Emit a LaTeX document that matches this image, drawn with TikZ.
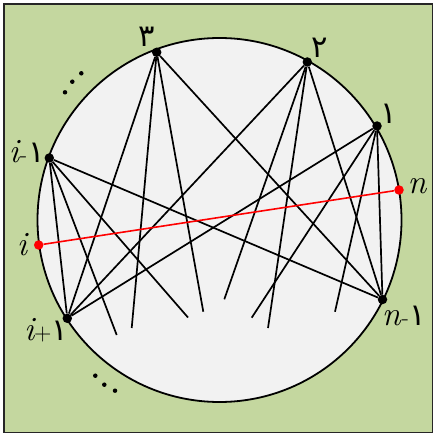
\documentclass[tikz,border=0pt]{standalone}
\usepackage{fontspec}
\newfontfamily\arabicfont[Script=Arabic,Scale=0.9]{DejaVu Sans}
\definecolor{bg}{HTML}{C4D79F}
\definecolor{disk}{HTML}{F2F2F2}
\newcommand{\fa}[1]{{\upshape\arabicfont #1}}
\newcommand{\hy}{{\upshape\fontsize{24}{24}\selectfont -}}
\newcommand{\pl}{{\upshape\fontsize{24}{24}\selectfont +}}
\begin{document}
\begin{tikzpicture}[x=1pt,y=-1pt,
  vtx/.style={circle,fill=black,inner sep=0pt,minimum size=9.5pt},
  rvtx/.style={circle,fill=red,inner sep=0pt,minimum size=9.5pt},
  chord/.style={line width=1.7pt},
  lbl/.style={font=\fontsize{34}{34}\selectfont\itshape, inner sep=0pt},
  sdot/.style={circle,fill=black,inner sep=0pt,minimum size=4.5pt}]
\useasboundingbox (0,0) rectangle (434,435);
\draw[fill=bg, line width=1.5pt, draw=black!85] (4,4) rectangle (432.5,432.5);
\draw[fill=disk, line width=1.8pt] (219.5,220) circle[radius=182];
% vertices
\node[vtx] (p3) at (156.7,52.3) {};
\node[vtx] (p2) at (307.3,62) {};
\node[vtx] (p1) at (377,126) {};
\node[rvtx] (pn) at (399,190) {};
\node[vtx] (pn1) at (382.5,299.5) {};
\node[vtx] (pip) at (67.3,318.3) {};
\node[rvtx] (pi) at (38.7,245) {};
\node[vtx] (pim) at (49.3,158) {};
% free ends
\coordinate (f1) at (116.7,335);
\coordinate (f2) at (131.7,328);
\coordinate (f3) at (188,317.5);
\coordinate (f4) at (203.3,311.7);
\coordinate (f5) at (224.3,299.3);
\coordinate (f6) at (251.7,317.7);
\coordinate (f7) at (268,328);
\coordinate (f8) at (335,311.7);
% chords
\draw[chord] (pim) -- (pip);
\draw[chord] (pim) -- (f1);
\draw[chord] (pim) -- (f3);
\draw[chord] (pim) -- (pn1);
\draw[chord] (p3) -- (pip);
\draw[chord] (p3) -- (f2);
\draw[chord] (p3) -- (f4);
\draw[chord] (p3) -- (pn1);
\draw[chord] (p2) -- (pip);
\draw[chord] (p2) -- (f5);
\draw[chord] (p2) -- (f7);
\draw[chord] (p2) -- (pn1);
\draw[chord] (p1) -- (pip);
\draw[chord] (p1) -- (f6);
\draw[chord] (p1) -- (f8);
\draw[chord] (p1) -- (pn1);
\draw[line width=1.6pt, red] (pi) -- (pn);
% labels
\node[lbl] (l3) at (146.5,37) {\fa{۳}};
\node[lbl] (l2) at (319.5,47.5) {\fa{۲}};
\node[lbl] (l1) at (388.5,114) {\fa{۱}};
\node[lbl] (ln) at (417,186) {n};
\node[lbl] (ln1) at (404,316) {n\kern1pt\hy\kern1pt\fa{۱}};
\node[lbl] (lip) at (46,330) {i\pl\fa{۱}};
\node[lbl] (li) at (22,245) {i};
\node[lbl] (lim) at (26.7,152) {i\kern1pt\hy\kern1pt\fa{۱}};
% ellipsis dots
\node[sdot] (d1) at (65,92.3) {};
\node[sdot] (d2) at (72.3,81.7) {};
\node[sdot] (d3) at (81.3,73.3) {};
\node[sdot] (d4) at (95.3,375.7) {};
\node[sdot] (d5) at (104.3,384.7) {};
\node[sdot] (d6) at (115,390.7) {};
\end{tikzpicture}
\end{document}
